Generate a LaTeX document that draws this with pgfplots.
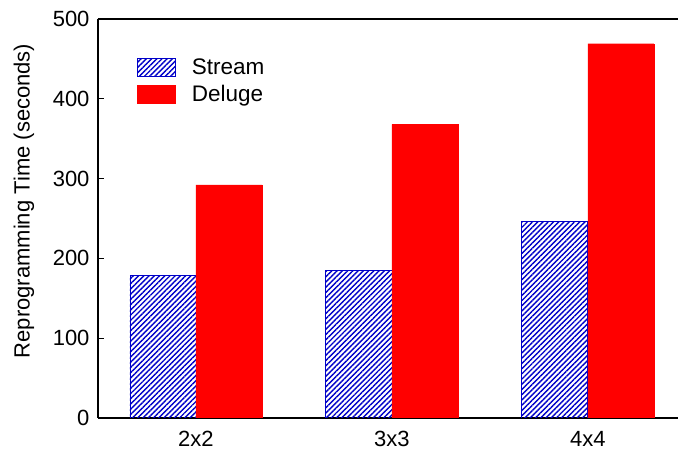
\documentclass[border=0pt]{standalone}
\usepackage{fontspec}
\setmainfont{Liberation Sans}
\usepackage{pgfplots}
\pgfplotsset{compat=1.18}
\usetikzlibrary{patterns.meta}
\definecolor{sblue}{RGB}{0,0,200}
\definecolor{dred}{RGB}{255,0,0}
\newcommand{\bigf}{\fontsize{22bp}{26bp}\selectfont}
\begin{document}
\begin{tikzpicture}
\begin{axis}[
  name=ax,
  scale only axis, width=580bp, height=399bp,
  xmin=0.5, xmax=3.46, ymin=0, ymax=500,
  axis x line*=box, axis y line*=left,
  ytick={0,100,200,300,400,500},
  xtick={1,2,3}, xticklabels={2x2,3x3,4x4},
  x tick style={draw=none},
  y tick style={black, line width=1bp},
  major tick length=6bp,
  tick align=inside,
  axis line style={line width=1.5bp, black},
  ylabel={Reprogramming Time (seconds)},
  every axis y label/.style={at={(rel axis cs:-0.1276,0.544)}, rotate=90, anchor=center, font=\bigf},
  tick label style={font=\bigf},
  yticklabel style={xshift=-5bp},
  xticklabel style={inner ysep=1bp, yshift=-6bp},
  /pgf/number format/assume math mode=true,
  ybar, bar width=0.337,
  legend style={at={(0.067,0.903)}, anchor=north west, draw=none, fill=none,
    inner sep=0pt, font=\fontsize{22.5bp}{26bp}\selectfont, row sep=7bp, nodes={inner ysep=1bp},
    /tikz/every odd column/.append style={column sep=14bp}},
  legend image code/.code={\draw[#1] (0bp,-9bp) rectangle (38bp,9bp);},
  legend cell align=left,
]
\addplot[bar shift=-0.1685, draw=sblue, line width=0.8bp,
  pattern={Lines[angle=45, distance=3.7bp, line width=1.4bp]}, pattern color=sblue]
  coordinates {(1,179) (2,185) (3,246)};
\addlegendentry{Stream}
\addplot[bar shift=0.1685, draw=dred, fill=dred]
  coordinates {(1,292) (2,368) (3,469)};
\addlegendentry{Deluge}
\end{axis}
\pgfresetboundingbox
\path[use as bounding box] ([xshift=-98bp, yshift=-33bp]ax.south west) rectangle ([yshift=19bp]ax.north east);
\end{tikzpicture}
\end{document}
